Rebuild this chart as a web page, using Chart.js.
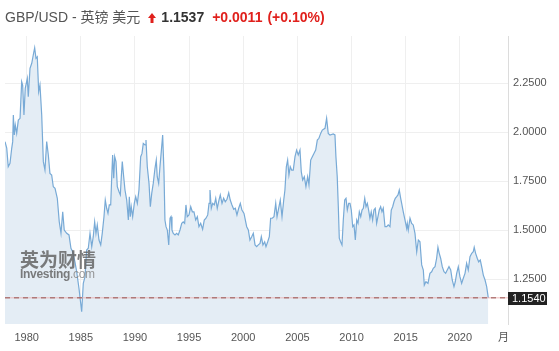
<!DOCTYPE html>
<html lang="zh-CN">
  <head>
    <meta charset="UTF-8" />
    <title>GBP/USD - 英镑 美元</title>
    <script src="https://cdn.jsdelivr.net/npm/chart.js"></script>
    <style>
      html, body { margin: 0; padding: 0; background: #fff; }
      #wrap { position: relative; width: 559px; height: 351px; overflow: hidden; }
      #chart { position: absolute; left: 0; top: 0; }
      #hdr {
        position: absolute; left: 5px; top: 6px; white-space: nowrap;
        font: 14px "Liberation Sans", Arial, "Noto Sans CJK SC", sans-serif;
        color: #555;
      }
      #hdr svg { vertical-align: -1px; margin: 0 5px 0 8px; }
      #hdr .last { color: #333; font-weight: bold; }
      #hdr .chg { color: #e0201c; font-weight: bold; margin-left: 8px; }
      #hdr .pct { margin-left: 5px; }
      #logo { position: absolute; left: 20px; top: 248px; color: #666; opacity: 0.85; }
      #logo .cn { font: bold 19px "Noto Sans CJK SC", sans-serif; line-height: 21px; }
      #logo .en { font: bold 12px "Liberation Sans", Arial, sans-serif; line-height: 11px; letter-spacing: -0.3px; }
      #logo .en span { font-weight: normal; color: #888; }
    </style>
  </head>
  <body>
    <div id="wrap">
      <canvas id="chart" width="559" height="351"></canvas>
      <div id="hdr">GBP/USD - 英镑 美元<svg width="8" height="10" viewBox="0 0 8 10"><path d="M4 0 L8 5 L5.5 5 L5.5 10 L2.5 10 L2.5 5 L0 5 Z" fill="#e0201c"/></svg><span class="last">1.1537</span><span class="chg">+0.0011</span><span class="chg pct">(+0.10%)</span></div>
      <div id="logo"><div class="cn">英为财情</div><div class="en">Investing<span>.com</span></div></div>
    </div>
    <script>
      // dates (decimal years) and GBP/USD rates
      const years = [
        1978.00, 1978.16, 1978.30, 1978.46, 1978.62, 1978.71, 1978.77, 1978.86, 1978.95, 1979.08,
        1979.23, 1979.39, 1979.54, 1979.63, 1979.75, 1979.87, 1980.06, 1980.15, 1980.31, 1980.47,
        1980.61, 1980.74, 1980.86, 1980.98, 1981.11, 1981.23, 1981.39, 1981.54, 1981.69, 1981.85,
        1982.00, 1982.15, 1982.31, 1982.46, 1982.62, 1982.83, 1983.01, 1983.17, 1983.33, 1983.47,
        1983.70, 1983.91, 1984.09, 1984.25, 1984.46, 1984.62, 1984.83, 1985.08,
        1985.23, 1985.39, 1985.54, 1985.69, 1985.85, 1986.01, 1986.15, 1986.28, 1986.40, 1986.52,
        1986.68, 1986.84, 1986.98, 1987.14, 1987.26, 1987.39, 1987.51, 1987.63, 1987.76, 1987.88,
        1987.94, 1988.04, 1988.13, 1988.25, 1988.37, 1988.53, 1988.65, 1988.74, 1988.83, 1988.96,
        1989.08, 1989.24, 1989.39, 1989.48, 1989.57, 1989.66, 1989.79, 1989.94, 1990.07, 1990.22,
        1990.37, 1990.53, 1990.65, 1990.77, 1990.93, 1991.02, 1991.14, 1991.30, 1991.42, 1991.55,
        1991.69, 1991.85, 1991.97, 1992.06, 1992.19, 1992.31, 1992.43, 1992.56, 1992.68, 1992.77,
        1992.87, 1992.99, 1993.12, 1993.24, 1993.33, 1993.42, 1993.54, 1993.70, 1993.85, 1994.00,
        1994.16, 1994.32, 1994.46, 1994.59, 1994.71, 1994.83, 1994.99, 1995.15, 1995.30, 1995.45,
        1995.61, 1995.76, 1995.91, 1996.07, 1996.25, 1996.40, 1996.56, 1996.72, 1996.84, 1996.93,
        1997.05, 1997.18, 1997.33, 1997.46, 1997.60, 1997.76, 1997.88, 1998.04, 1998.19, 1998.34,
        1998.50, 1998.66, 1998.80, 1998.96, 1999.12, 1999.27, 1999.42, 1999.58, 1999.73, 1999.88,
        2000.07,
        2000.32, 2000.47, 2000.62, 2000.78, 2000.93, 2001.09, 2001.24, 2001.39, 2001.55, 2001.67,
        2001.82, 2001.98, 2002.10, 2002.26, 2002.41, 2002.53, 2002.68, 2002.84, 2003.00, 2003.12,
        2003.27, 2003.42, 2003.58, 2003.74, 2003.85, 2003.98, 2004.10, 2004.22, 2004.34, 2004.47,
        2004.62, 2004.78, 2004.93, 2005.08, 2005.24, 2005.36, 2005.49, 2005.64, 2005.79, 2005.95,
        2006.07, 2006.23, 2006.38, 2006.53, 2006.69, 2006.84, 2006.99, 2007.15,
        2007.30, 2007.55, 2007.70, 2007.85, 2008.01, 2008.31, 2008.47, 2008.56, 2008.68, 2008.78,
        2008.87, 2008.99, 2009.12, 2009.24, 2009.37, 2009.49, 2009.61, 2009.74, 2009.86, 2009.98,
        2010.11, 2010.23, 2010.35, 2010.48, 2010.60, 2010.72, 2010.85, 2010.97, 2011.09, 2011.22,
        2011.34, 2011.46, 2011.58, 2011.70, 2011.82, 2011.95, 2012.07, 2012.19, 2012.32, 2012.44,
        2012.56, 2012.69, 2012.81, 2012.93, 2013.09, 2013.25, 2013.39, 2013.55, 2013.67, 2013.80,
        2013.92, 2014.04, 2014.17, 2014.29, 2014.41, 2014.54, 2014.63, 2014.78, 2014.94,
        2015.09, 2015.15, 2015.24, 2015.40, 2015.55, 2015.70, 2015.86, 2016.02, 2016.17, 2016.32,
        2016.48, 2016.63, 2016.72, 2016.87, 2017.06, 2017.24, 2017.40, 2017.55, 2017.71, 2017.86,
        2017.98, 2018.10, 2018.23, 2018.38, 2018.54, 2018.69, 2018.84, 2019.00, 2019.16, 2019.30,
        2019.46, 2019.58, 2019.71, 2019.86, 2020.01, 2020.17, 2020.32, 2020.48, 2020.63, 2020.78,
        2020.94, 2021.10, 2021.24, 2021.33, 2021.46, 2021.61, 2021.74, 2021.89, 2022.02, 2022.17,
        2022.33, 2022.48, 2022.63,
      ];
      const rates = [
        1.951, 1.918, 1.823, 1.840, 1.917, 1.951, 2.087, 1.985, 2.036, 1.993,
        2.061, 2.070, 2.257, 2.240, 2.087, 2.223, 2.274, 2.180, 2.325, 2.351,
        2.393, 2.430, 2.376, 2.384, 2.206, 2.240, 2.087, 1.849, 1.806, 1.951,
        1.883, 1.789, 1.781, 1.721, 1.713, 1.662, 1.542, 1.483, 1.593, 1.500,
        1.483, 1.475, 1.407, 1.389, 1.338, 1.287, 1.203, 1.083,
        1.228, 1.262, 1.398, 1.407, 1.483, 1.415, 1.466, 1.542, 1.483, 1.526,
        1.449, 1.424, 1.483, 1.568, 1.653, 1.611, 1.585, 1.628, 1.628, 1.806,
        1.883, 1.764, 1.874, 1.849, 1.721, 1.695, 1.679, 1.772, 1.849, 1.772,
        1.704, 1.653, 1.551, 1.670, 1.568, 1.619, 1.568, 1.636, 1.670, 1.636,
        1.704, 1.874, 1.891, 1.942, 1.934, 1.959, 1.823, 1.738, 1.619, 1.687,
        1.738, 1.815, 1.857, 1.772, 1.738, 1.823, 1.900, 1.985, 1.798, 1.551,
        1.517, 1.500, 1.424, 1.560, 1.568, 1.500, 1.483, 1.475, 1.483, 1.475,
        1.500, 1.534, 1.542, 1.534, 1.628, 1.568, 1.577, 1.619, 1.593, 1.593,
        1.551, 1.568, 1.517, 1.534, 1.504, 1.551, 1.560, 1.577, 1.636, 1.704,
        1.611, 1.636, 1.628, 1.662, 1.611, 1.653, 1.679, 1.636, 1.662, 1.644,
        1.657, 1.690, 1.653, 1.628, 1.606, 1.611, 1.577, 1.611, 1.636, 1.602,
        1.585,
        1.517, 1.500, 1.449, 1.466, 1.483, 1.424, 1.415, 1.424, 1.432, 1.466,
        1.424, 1.440, 1.415, 1.440, 1.466, 1.560, 1.560, 1.568, 1.636, 1.568,
        1.611, 1.653, 1.568, 1.653, 1.704, 1.823, 1.857, 1.781, 1.823, 1.806,
        1.806, 1.874, 1.908, 1.883, 1.908, 1.798, 1.755, 1.772, 1.721, 1.772,
        1.730, 1.857, 1.874, 1.891, 1.908, 1.959, 1.968, 1.993,
        2.010, 2.019, 2.070, 1.993, 1.985, 1.990, 1.985, 1.874, 1.772, 1.619,
        1.458, 1.440, 1.424, 1.551, 1.653, 1.662, 1.602, 1.636, 1.636, 1.602,
        1.517, 1.526, 1.449, 1.551, 1.534, 1.593, 1.568, 1.602, 1.611, 1.662,
        1.619, 1.636, 1.602, 1.560, 1.593, 1.551, 1.602, 1.611, 1.534, 1.568,
        1.602, 1.619, 1.593, 1.611, 1.517, 1.517, 1.526, 1.517, 1.602, 1.619,
        1.644, 1.662, 1.670, 1.679, 1.704, 1.662, 1.636, 1.593, 1.551,
        1.509, 1.534, 1.500, 1.560, 1.534, 1.526, 1.483, 1.389, 1.449, 1.440,
        1.322, 1.296, 1.219, 1.236, 1.228, 1.279, 1.287, 1.305, 1.313, 1.356,
        1.412, 1.381, 1.356, 1.313, 1.287, 1.279, 1.296, 1.313, 1.296, 1.245,
        1.211, 1.236, 1.279, 1.313, 1.262, 1.228, 1.254, 1.279, 1.330, 1.296,
        1.364, 1.381, 1.389, 1.412, 1.381, 1.356, 1.338, 1.347, 1.313, 1.270,
        1.245, 1.211, 1.1537,
      ];

      const xTicks = [1980, 1985, 1990, 1995, 2000, 2005, 2010, 2015, 2020, 2024];
      const xTickLabels = ["1980", "1985", "1990", "1995", "2000", "2005", "2010", "2015", "2020", "月"];
      const yTicks = [1.25, 1.5, 1.75, 2.0, 2.25];
      const xMin = 1978;
      const xMax = 2024.45;
      const yMin = 1.0205;
      const yMax = 2.49;
      const currentPrice = 1.154;

      Chart.defaults.font.family = "'Liberation Sans', Arial, sans-serif";
      Chart.defaults.font.size = 11;
      Chart.defaults.color = "#555";

      // dark box with the last price on the right axis
      const priceTag = {
        id: "priceTag",
        afterDraw(chart) {
          const c = chart.ctx;
          const y = chart.scales.y.getPixelForValue(currentPrice);
          const x = chart.chartArea.right;
          c.save();
          c.fillStyle = "#222";
          c.fillRect(x, Math.round(y) - 6, 39, 13);
          c.fillStyle = "#fff";
          c.font = "11px 'Liberation Sans', Arial, sans-serif";
          c.textBaseline = "middle";
          c.fillText(currentPrice.toFixed(4), x + 4, Math.round(y) + 0.5);
          c.restore();
        },
      };

      const ctx = document.getElementById("chart").getContext("2d");
      const chart = new Chart(ctx, {
        type: "line",
        data: {
          datasets: [
            {
              data: [{ x: xMin, y: currentPrice }, { x: xMax, y: currentPrice }],
              borderColor: "#94524f",
              borderWidth: 1,
              borderDash: [5, 4],
              pointRadius: 0,
              fill: false,
              order: 0,
            },
            {
              data: [{ x: xMin, y: currentPrice }, { x: xMax, y: currentPrice }],
              borderColor: "rgba(235,165,165,0.75)",
              borderWidth: 1,
              pointRadius: 0,
              fill: false,
              order: 1,
            },
            {
              data: years.map((x, i) => ({ x: x, y: rates[i] })),
              borderColor: "#78aad6",
              backgroundColor: "#e4edf5",
              borderWidth: 1.2,
              pointRadius: 0,
              tension: 0,
              fill: "start",
              order: 2,
            },
          ],
        },
        options: {
          responsive: false,
          animation: false,
          devicePixelRatio: 1,
          layout: { padding: { top: 36, left: 5, right: 0, bottom: 0 } },
          plugins: { legend: { display: false }, tooltip: { enabled: false } },
          scales: {
            x: {
              type: "linear",
              min: xMin,
              max: xMax,
              afterBuildTicks: (s) => { s.ticks = xTicks.map((v) => ({ value: v })); },
              afterFit: (s) => { s.height = 27; },
              ticks: {
                padding: 7,
                maxRotation: 0,
                autoSkip: false,
                callback: (v) => xTickLabels[xTicks.indexOf(v)],
              },
              grid: {
                drawTicks: false,
                color: (c) => (c.tick && c.tick.value === 2024 ? "rgba(0,0,0,0)" : "#efefef"),
              },
              border: { display: false },
            },
            y: {
              position: "right",
              min: yMin,
              max: yMax,
              afterBuildTicks: (s) => { s.ticks = yTicks.map((v) => ({ value: v })); },
              afterFit: (s) => { s.width = 51; },
              ticks: {
                padding: 5,
                callback: (v) => v.toFixed(4),
              },
              grid: { drawTicks: false, color: "#efefef" },
              border: { color: "#dcdcdc" },
            },
          },
        },
        plugins: [priceTag],
      });
    </script>
  </body>
</html>
